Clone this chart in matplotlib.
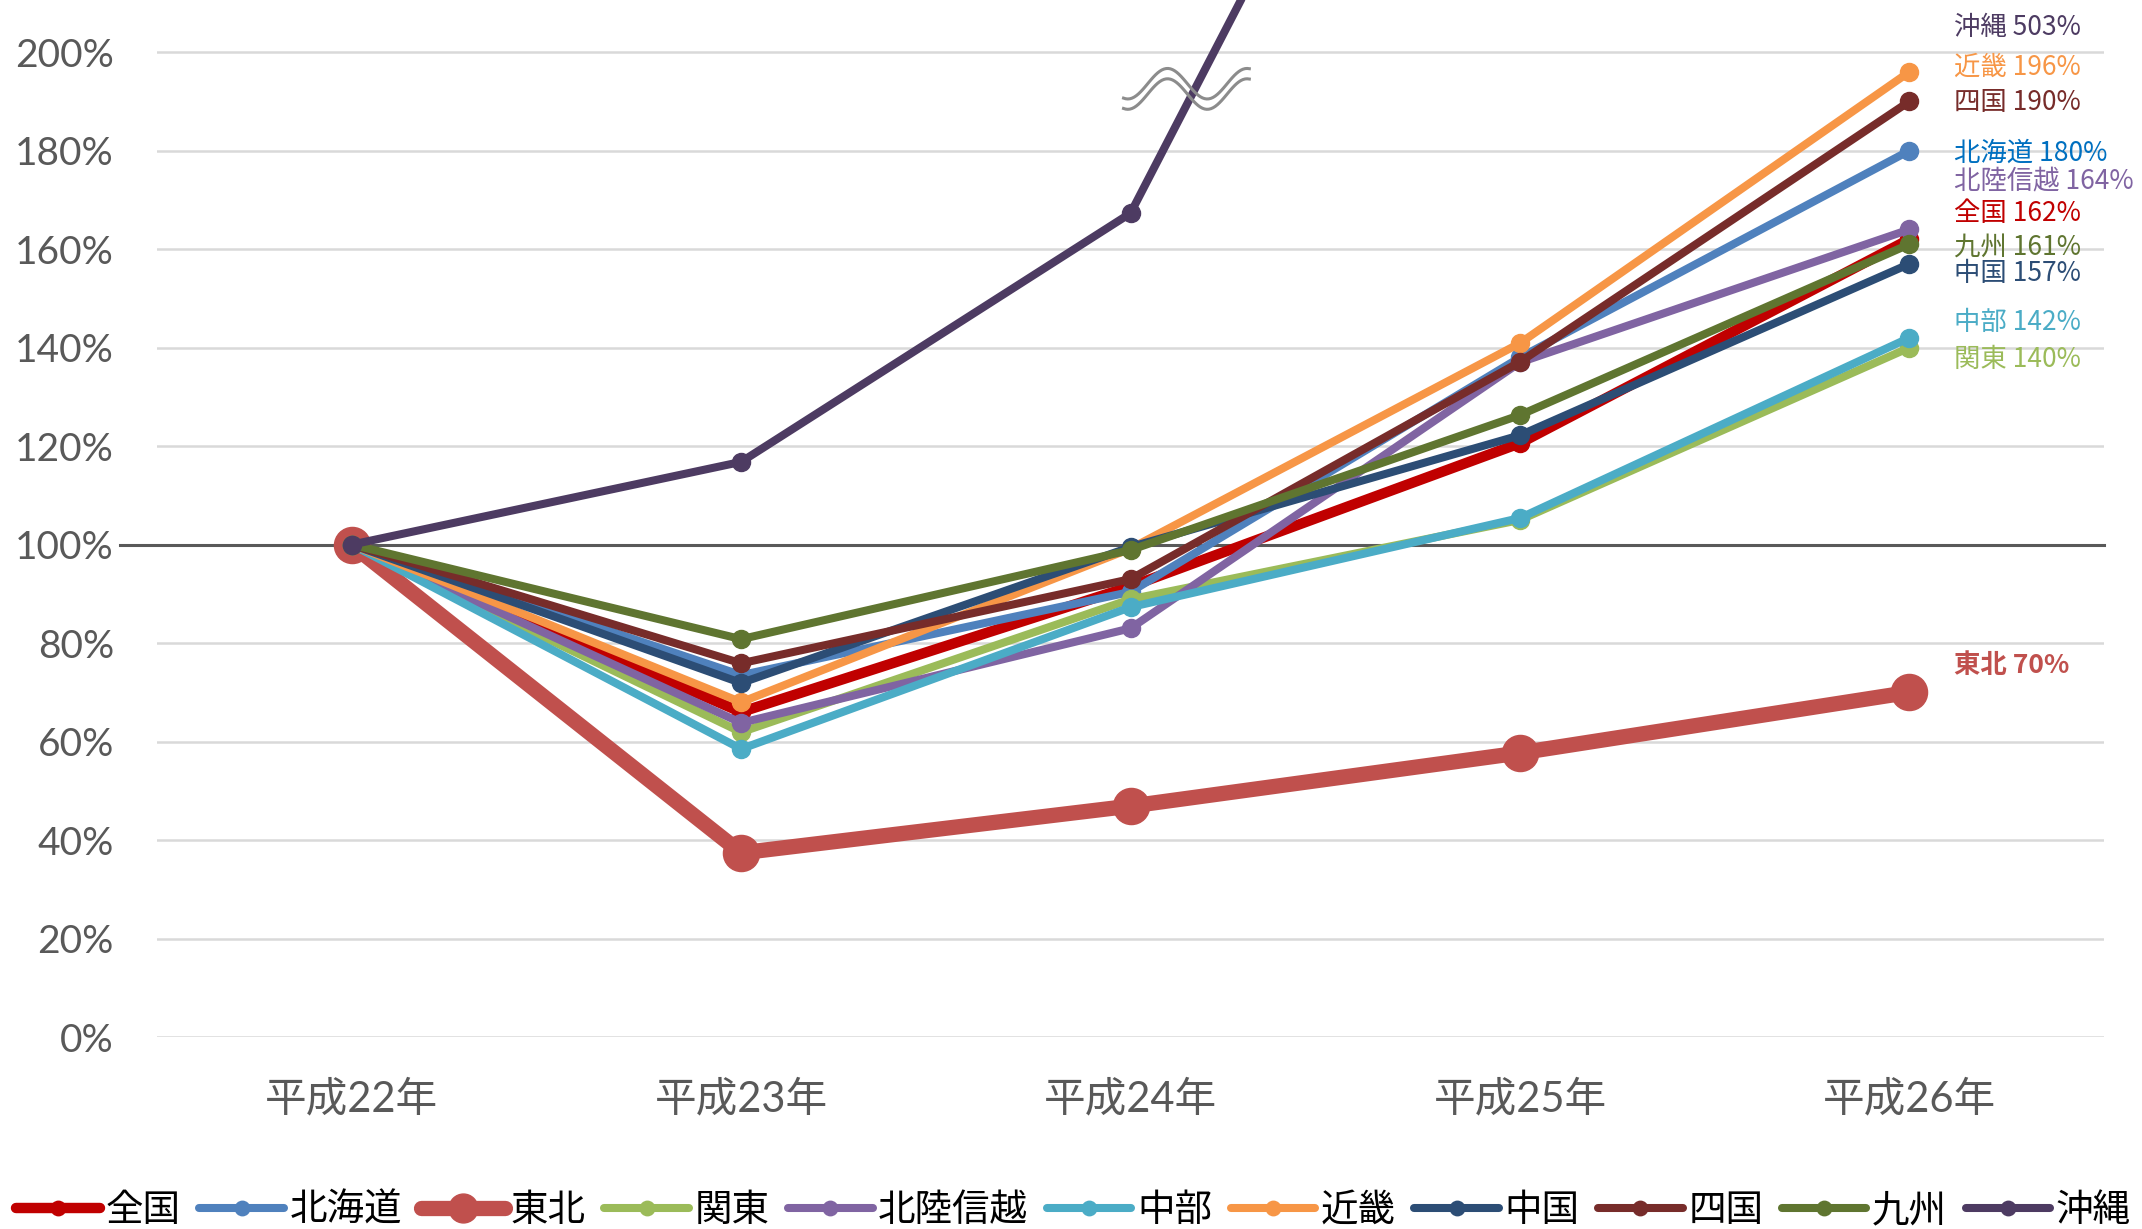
import numpy as np
import matplotlib.pyplot as plt
import matplotlib.transforms as mtransforms

plt.rcParams['font.family'] = ['Lato', 'Noto Sans CJK JP', 'DejaVu Sans']

# data (percent of 平成22年 level)
years = ['平成22年', '平成23年', '平成24年', '平成25年', '平成26年']
regions = ['全国', '北海道', '東北', '関東', '北陸信越', '中部', '近畿', '中国', '四国', '九州', '沖縄']
zenkoku = [100, 66.0, 91.5, 120.6, 162]
hokkaido = [100, 73.5, 90.4, 138.0, 180]
tohoku = [100, 37.4, 46.9, 57.7, 70]
kanto = [100, 61.9, 88.9, 105.0, 140]
hokuriku = [100, 63.8, 83.0, 137.0, 164]
chubu = [100, 58.5, 87.3, 105.4, 142]
kinki = [100, 68.0, 99.2, 140.9, 196]
chugoku = [100, 71.9, 99.5, 122.2, 157]
shikoku = [100, 75.9, 93.0, 137.1, 190]
kyushu = [100, 80.8, 98.9, 126.3, 161]
okinawa = [100, 116.8, 167.3, 320, 503]
series = [zenkoku, hokkaido, tohoku, kanto, hokuriku, chubu, kinki, chugoku, shikoku, kyushu, okinawa]

colors = ['#C00000', '#4F81BD', '#C0504D', '#9BBB59', '#8064A2', '#4BACC6',
          '#F79646', '#2C4D75', '#772C2A', '#5F7530', '#4D3B62']
label_colors = ['#C00000', '#0070C0', '#C0504D', '#9BBB59', '#8064A2', '#4BACC6',
                '#F79646', '#2C4D75', '#772C2A', '#5F7530', '#4D3B62']
# vertical placement of the end labels (in % units)
label_y = [167.3, 179.5, 75.5, 137.5, 173.6, 145.2, 197.0, 155.1, 189.7, 160.4, 205.1]

fig = plt.figure(figsize=(21.42, 12.29), dpi=100)
ax = fig.add_axes([0.0733, 0.1562, 0.909, 0.8438])
x = np.arange(len(years))

ax.set_xlim(-0.5, 4.5)
ax.set_ylim(0, 210.6)
ax.set_yticks(range(0, 201, 20))
ax.set_yticklabels([f'{v}%' for v in range(0, 201, 20)])
ax.set_xticks(x)
ax.set_xticklabels(years)
ax.tick_params(axis='y', length=0, pad=31, labelsize=28, labelcolor='#595959')
ax.tick_params(axis='x', length=0, pad=31, labelsize=30, labelcolor='#595959')
for s in ax.spines.values():
    s.set_visible(False)
ax.grid(axis='y', color='#D9D9D9', lw=1.8, zorder=0)
ax.set_axisbelow(True)

# darker 100% base line, starting a bit left of the plot
trans = mtransforms.blended_transform_factory(ax.transAxes, ax.transData)
ax.plot([-0.019, 1], [100, 100], color='#595959', lw=2.2, transform=trans,
        clip_on=False, zorder=1)

for i, (name, vals) in enumerate(zip(regions, series)):
    lw, ms = 5.8, 13
    if name == '全国':
        lw, ms = 7.5, 13
    if name == '東北':
        lw, ms = 11, 26
    ax.plot(x, vals, color=colors[i], lw=lw, marker='o', ms=ms,
            solid_capstyle='round', label=name, zorder=3 + i)
    ax.text(4.115, label_y[i], f'{name} {vals[-1]:.0f}%', color=label_colors[i],
            fontsize=19, va='center', ha='left',
            fontweight='bold' if name == '東北' else 'normal',
            family=['Noto Sans CJK JP', 'DejaVu Sans'], clip_on=False)

# axis-break symbol on the 沖縄 line
wx = np.linspace(1.982, 2.305, 60)
wy = 193.6 + 3.1 * np.cos(2 * np.pi * (wx - 2.095) / 0.204)
ax.plot(wx, wy, color='#8C8C8C', lw=2.2, zorder=20)
ax.plot(wx, wy - 2.1, color='#8C8C8C', lw=2.2, zorder=20)

fig.legend(loc='center', bbox_to_anchor=(0.501, 0.015), ncol=11, frameon=False,
           handlelength=2.25, handletextpad=0.15, columnspacing=0.5, markerscale=0.8,
           borderpad=0, prop={'family': ['Noto Sans CJK JP', 'DejaVu Sans'], 'size': 27})

fig.savefig('out.png', dpi=100)
